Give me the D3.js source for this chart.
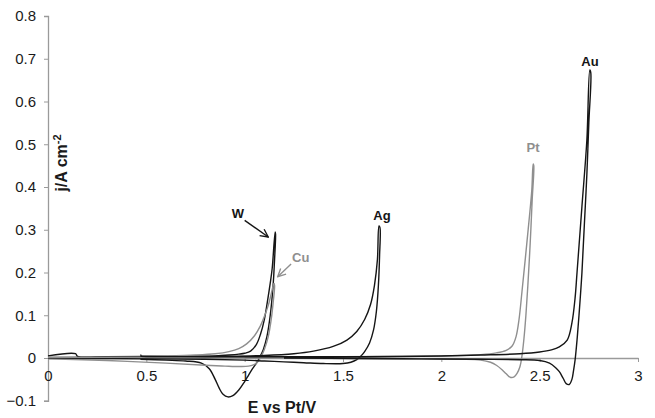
<!DOCTYPE html>
<html>
<head>
<meta charset="utf-8">
<script src="https://cdn.jsdelivr.net/npm/d3@7"></script>
<style>
  html, body { margin: 0; padding: 0; background: #fff; }
  svg { display: block; font-family: "Liberation Sans", Arial, sans-serif; }
</style>
</head>
<body>
<svg id="chart" width="655" height="418"></svg>
<script>
// ---- data (E vs Pt / V , j / A cm^-2), forward sweep then reverse sweep ----
const xTicks = [0, 0.5, 1, 1.5, 2, 2.5, 3];
const yTicks = [-0.1, 0, 0.1, 0.2, 0.3, 0.4, 0.5, 0.6, 0.7, 0.8];

const wE = [0.47,0.48,0.6,0.75,0.85,0.92,0.97,1.0,1.03,1.06,1.08,1.1,1.115,1.13,1.14,1.155,
            1.157,1.152,1.144,1.13,1.113,1.095,1.078,1.06,1.04,1.02,1.0,0.97,0.94,0.915,0.89,0.87,0.85,0.82,0.78,0.7,0.6,0.47];
const wJ = [0.008,0.003,0.003,0.004,0.005,0.007,0.009,0.011,0.016,0.032,0.055,0.09,0.13,0.175,0.21,0.295,
            0.29,0.23,0.166,0.1,0.05,0.02,0.003,-0.012,-0.025,-0.04,-0.055,-0.075,-0.088,-0.091,-0.085,-0.07,-0.05,-0.025,-0.012,-0.007,-0.005,-0.003];

const cuE = [0,0.3,0.6,0.75,0.85,0.92,0.97,1.01,1.05,1.08,1.1,1.12,1.135,1.149,
             1.152,1.145,1.135,1.12,1.1,1.085,1.07,1.05,1.02,0.98,0.9,0.8,0.6,0.3,0];
const cuJ = [0.002,0.003,0.005,0.007,0.01,0.015,0.022,0.033,0.052,0.075,0.097,0.123,0.15,0.175,
             0.17,0.13,0.09,0.05,0.02,0.005,-0.007,-0.015,-0.019,-0.02,-0.019,-0.017,-0.012,-0.006,-0.002];

const agE = [0,0.14,0.15,0.3,0.6,0.9,1.1,1.25,1.35,1.45,1.52,1.57,1.61,1.64,1.66,1.675,1.683,
             1.688,1.686,1.68,1.67,1.655,1.635,1.61,1.59,1.57,1.54,1.5,1.4,1.3,1.2,1.1,1.0,0.8,0.5,0];
const agJ = [0.005,0.01,0.004,0.003,0.003,0.004,0.006,0.01,0.016,0.027,0.042,0.062,0.09,0.125,0.17,0.23,0.309,
             0.305,0.24,0.17,0.11,0.065,0.035,0.015,0.004,-0.004,-0.01,-0.013,-0.013,-0.011,-0.009,-0.007,-0.005,-0.003,-0.002,0];

const ptE = [0,0.5,1.0,1.5,2.0,2.2,2.28,2.33,2.36,2.38,2.395,2.41,2.435,2.46,2.467,
             2.47,2.462,2.452,2.44,2.43,2.42,2.41,2.40,2.385,2.37,2.35,2.33,2.31,2.28,2.25,2.2,2.1,1.8,1.5,1.0];
const ptJ = [0.001,0.002,0.003,0.003,0.005,0.008,0.012,0.018,0.028,0.05,0.09,0.155,0.27,0.393,0.454,
             0.45,0.37,0.27,0.17,0.1,0.045,0.005,-0.02,-0.036,-0.044,-0.045,-0.037,-0.028,-0.017,-0.01,-0.005,-0.003,-0.002,-0.001,0];

const auE = [0.47,0.8,1.2,1.6,1.9,2.2,2.4,2.5,2.56,2.6,2.64,2.664,2.68,2.69,2.715,2.74,2.755,
             2.76,2.75,2.74,2.727,2.715,2.7,2.69,2.68,2.672,2.664,2.65,2.635,2.62,2.6,2.58,2.55,2.5,2.4,2.2,1.9,1.6,1.2];
const auJ = [0.004,0.003,0.003,0.003,0.004,0.007,0.01,0.014,0.019,0.026,0.042,0.082,0.14,0.2,0.355,0.51,0.674,
             0.667,0.55,0.43,0.31,0.2,0.1,0.042,-0.005,-0.03,-0.05,-0.062,-0.06,-0.048,-0.032,-0.022,-0.012,-0.006,-0.004,-0.003,-0.002,-0.001,0];

const seriesNames = ["W", "Cu", "Ag", "Pt", "Au"];
const seriesE = [wE, cuE, agE, ptE, auE];
const seriesJ = [wJ, cuJ, agJ, ptJ, auJ];
const seriesColor = ["#151515", "#8f8f8f", "#151515", "#8f8f8f", "#151515"];
// label anchor positions in data units
const labelE = [0.966, 1.285, 1.698, 2.466, 2.756];
const labelJ = [0.335, 0.233, 0.33, 0.491, 0.692];
// arrows (W, Cu) in data units: [E0, j0, E1, j1, colour index]
const arrows = [[1.0, 0.322, 1.12, 0.283, 0], [1.236, 0.22, 1.168, 0.19, 1]];

// ---- drawing ----
const svg = d3.select("#chart");
const x = d3.scaleLinear().domain([0, 3]).range([48, 638]);
const y = d3.scaleLinear().domain([-0.1, 0.8]).range([400.75, 16]);
const axisColor = "#9a9a9a";

// y axis (at E = 0)
const yAxis = svg.append("g").attr("transform", `translate(${x(0)},0)`)
  .call(d3.axisLeft(y).tickValues(yTicks).tickSize(4).tickPadding(8).tickFormat(d3.format("~g")));
yAxis.select(".domain").attr("stroke", axisColor).attr("stroke-width", 1.3);
yAxis.selectAll(".tick line").attr("stroke", axisColor);
yAxis.selectAll(".tick text").attr("font-size", 15).attr("fill", "#1a1a1a")
  .attr("font-family", "Liberation Sans, Arial, sans-serif");

// x axis (at j = 0)
const xAxis = svg.append("g").attr("transform", `translate(0,${y(0)})`)
  .call(d3.axisBottom(x).tickValues(xTicks).tickSize(4).tickSizeOuter(0).tickPadding(8).tickFormat(d3.format("~g")));
xAxis.select(".domain").attr("stroke", axisColor).attr("stroke-width", 1.3);
xAxis.selectAll(".tick line").attr("stroke", axisColor);
xAxis.selectAll(".tick text").attr("font-size", 15).attr("fill", "#1a1a1a")
  .attr("font-family", "Liberation Sans, Arial, sans-serif");

// curves
const line = d3.line().x(d => x(d[0])).y(d => y(d[1])).curve(d3.curveCatmullRom.alpha(0.5));
seriesNames.forEach((name, i) => {
  const pts = seriesE[i].map((e, k) => [e, seriesJ[i][k]]);
  svg.append("path").datum(pts)
    .attr("d", line)
    .attr("fill", "none")
    .attr("stroke", seriesColor[i])
    .attr("stroke-width", 1.4)
    .attr("stroke-linejoin", "round");
});

// arrow markers
const defs = svg.append("defs");
[0, 1, 2, 3, 4].forEach(i => {
  defs.append("marker").attr("id", "arr" + i)
    .attr("viewBox", "0 0 10 10").attr("refX", 9).attr("refY", 5)
    .attr("markerWidth", 7).attr("markerHeight", 7).attr("orient", "auto")
    .append("path").attr("d", "M1,1 L9,5 L1,9").attr("fill", "none")
    .attr("stroke", seriesColor[i]).attr("stroke-width", 1.4);
});
arrows.forEach(a => {
  svg.append("line")
    .attr("x1", x(a[0])).attr("y1", y(a[1]))
    .attr("x2", x(a[2])).attr("y2", y(a[3]))
    .attr("stroke", seriesColor[a[4]]).attr("stroke-width", 1.4)
    .attr("marker-end", `url(#arr${a[4]})`);
});

// series labels
seriesNames.forEach((name, i) => {
  svg.append("text")
    .attr("x", x(labelE[i])).attr("y", y(labelJ[i]))
    .attr("text-anchor", "middle").attr("dominant-baseline", "middle")
    .attr("font-size", 13).attr("font-weight", "bold")
    .attr("fill", seriesColor[i])
    .text(name);
});

// axis titles
svg.append("text")
  .attr("x", 282).attr("y", 413)
  .attr("text-anchor", "middle")
  .attr("font-size", 16).attr("font-weight", "bold").attr("fill", "#1a1a1a")
  .text("E vs Pt/V");

const yt = svg.append("text")
  .attr("transform", "translate(67,163) rotate(-90)")
  .attr("text-anchor", "middle")
  .attr("font-size", 16).attr("font-weight", "bold").attr("fill", "#1a1a1a");
yt.append("tspan").text("j/A cm");
yt.append("tspan").attr("dy", -6).attr("font-size", 11).text("-2");
</script>
</body>
</html>
